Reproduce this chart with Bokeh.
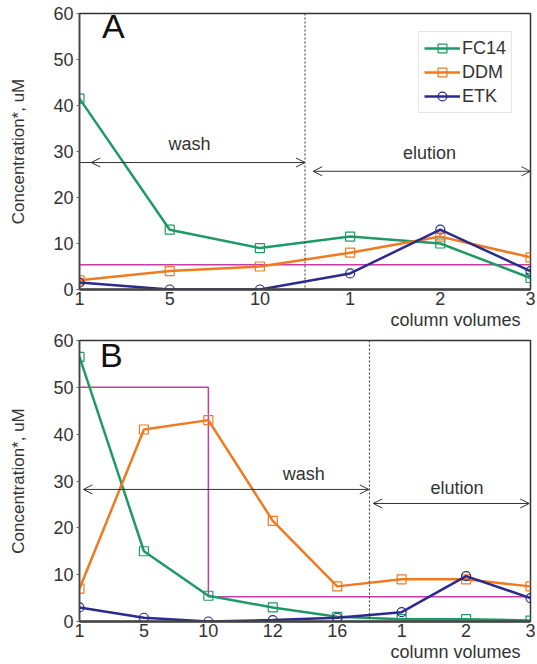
from bokeh.plotting import figure
from bokeh.models import Range1d, FixedTicker, Span, Arrow, OpenHead, Label, Title
from bokeh.layouts import column
from bokeh.embed import file_html
from bokeh.resources import INLINE

# ---------------- data ----------------
labels_a = ["1", "5", "10", "1", "2", "3"]
fc14_a = [41.5, 13, 9, 11.5, 10, 2.5]
ddm_a = [2, 4, 5, 8, 11.5, 7]
etk_a = [1.5, 0, 0, 3.5, 13, 4]
limit_a_x = [0, 5]
limit_a_y = [5.4, 5.4]

labels_b = ["1", "5", "10", "12", "16", "1", "2", "3"]
fc14_b = [56.5, 15, 5.5, 3, 1, 0.5, 0.5, 0.2]
ddm_b = [7, 41, 43, 21.5, 7.5, 9, 9, 7.5]
etk_b = [3, 0.8, 0, 0.3, 0.8, 2, 9.7, 5]
limit_b_x = [0, 2, 2, 7]
limit_b_y = [50, 50, 5.3, 5.3]

y_ticks = [0, 10, 20, 30, 40, 50, 60]

GREEN = "#1f9a66"
ORANGE = "#f07a22"
NAVY = "#2b2b8f"
MAGENTA = "#c63ca8"
TXT = "#333333"
FONT = "Liberation Sans"


def make_panel(labels, fc14, ddm, etk, lim_x, lim_y, height, borders, legend):
    xs = list(range(len(labels)))
    p = figure(width=537, height=height, output_backend="svg", toolbar_location=None,
               x_range=Range1d(0, len(labels) - 1), y_range=Range1d(0, 60),
               min_border_left=borders[0], min_border_right=borders[1],
               min_border_top=borders[2], min_border_bottom=borders[3])
    p.grid.visible = False
    p.outline_line_color = "#333333"
    p.outline_line_width = 1.5
    p.background_fill_color = "white"
    p.border_fill_color = "white"

    p.xaxis.ticker = FixedTicker(ticks=xs)
    p.xaxis.major_label_overrides = {i: l for i, l in enumerate(labels)}
    p.yaxis.ticker = FixedTicker(ticks=y_ticks)
    for ax in (p.xaxis, p.yaxis):
        ax.major_label_text_font = FONT
        ax.major_label_text_font_size = "18px"
        ax.major_label_text_color = TXT
        ax.minor_tick_line_color = None
        ax.major_tick_in = 0
    p.xaxis.major_tick_out = 0
    p.xaxis.major_label_standoff = 2
    p.xaxis.axis_line_color = "#444444"
    p.xaxis.axis_line_width = 2.5
    p.yaxis.major_tick_out = 3
    p.yaxis.major_tick_line_color = "#666666"
    p.yaxis.major_label_standoff = 3
    p.yaxis.axis_line_color = "#444444"
    p.yaxis.axis_line_width = 1.5
    p.yaxis.axis_label = "Concentration*, uM"
    p.yaxis.axis_label_text_font = FONT
    p.yaxis.axis_label_text_font_size = "17px"
    p.yaxis.axis_label_text_font_style = "normal"
    p.yaxis.axis_label_text_color = TXT
    p.yaxis.axis_label_standoff = 22

    # "column volumes" caption, right-aligned under the x axis
    cap = Title(text="column volumes", align="right", offset=10, standoff=0,
                text_font=FONT, text_font_size="18px", text_font_style="normal",
                text_color=TXT, text_line_height=0.65)
    p.add_layout(cap, "below")

    p.line(lim_x, lim_y, line_color=MAGENTA, line_width=1.5)

    series = [("FC14", fc14, GREEN, "square"), ("DDM", ddm, ORANGE, "square"),
              ("ETK", etk, NAVY, "circle")]
    for name, ys, col, mk in series:
        kw = {"legend_label": name} if legend else {}
        p.line(xs, ys, line_color=col, line_width=2.5, **kw)
        p.scatter(xs, ys, marker=mk, size=9, fill_alpha=0, line_color=col,
                  line_width=1.2, **kw)
    return p


def head():
    return OpenHead(size=9, line_color=TXT, line_width=1)


# ---------------- panel A ----------------
pa = make_panel(labels_a, fc14_a, ddm_a, etk_a, limit_a_x, limit_a_y, 329,
                (79, 7, 13, 40), True)
pa.add_layout(Span(location=2.5, dimension="height", line_color="#333333",
                   line_dash="2 2", line_width=1))
pa.add_layout(Arrow(x_start=0.13, y_start=27.6, x_end=2.5, y_end=27.6,
                    start=head(), end=head(), line_color=TXT, line_width=1))
pa.segment(x0=[0], y0=[27.6], x1=[0.13], y1=[27.6], line_color=TXT, line_width=1)
pa.add_layout(Arrow(x_start=2.59, y_start=25.7, x_end=5.0, y_end=25.7,
                    start=head(), end=head(), line_color=TXT, line_width=1))
pa.add_layout(Label(x=1.22, y=29.4, text="wash", text_align="center",
                    text_font=FONT, text_font_size="18px", text_color=TXT))
pa.add_layout(Label(x=3.88, y=27.6, text="elution", text_align="center",
                    text_font=FONT, text_font_size="18px", text_color=TXT))
pa.add_layout(Label(x=0.25, y=53.1, text="A", text_align="left",
                    text_font=FONT, text_font_size="34px", text_color="#111111"))
lg = pa.legend[0]
lg.location = (339, 176)
lg.label_text_font = FONT
lg.label_text_font_size = "18px"
lg.label_text_color = TXT
lg.glyph_width = 36
lg.glyph_height = 22
lg.label_height = 22
lg.label_standoff = 2
lg.spacing = 2
lg.padding = 5
lg.margin = 0
lg.border_line_color = "#cccccc"
lg.border_line_width = 1
lg.background_fill_alpha = 1

# ---------------- panel B ----------------
pb = make_panel(labels_b, fc14_b, ddm_b, etk_b, limit_b_x, limit_b_y, 335,
                (79, 4, 11, 43), False)
pb.add_layout(Span(location=4.5, dimension="height", line_color="#333333",
                   line_dash="2 2", line_width=1))
pb.add_layout(Arrow(x_start=0.06, y_start=28.2, x_end=4.49, y_end=28.2,
                    start=head(), end=head(), line_color=TXT, line_width=1))
pb.add_layout(Arrow(x_start=4.56, y_start=25.2, x_end=6.98, y_end=25.2,
                    start=head(), end=head(), line_color=TXT, line_width=1))
pb.add_layout(Label(x=3.48, y=29.3, text="wash", text_align="center",
                    text_font=FONT, text_font_size="18px", text_color=TXT))
pb.add_layout(Label(x=5.86, y=26.3, text="elution", text_align="center",
                    text_font=FONT, text_font_size="18px", text_color=TXT))
pb.add_layout(Label(x=0.32, y=52.8, text="B", text_align="left",
                    text_font=FONT, text_font_size="34px", text_color="#111111"))

layout = column(pa, pb)
open("out.html", "w").write(file_html(layout, INLINE))
